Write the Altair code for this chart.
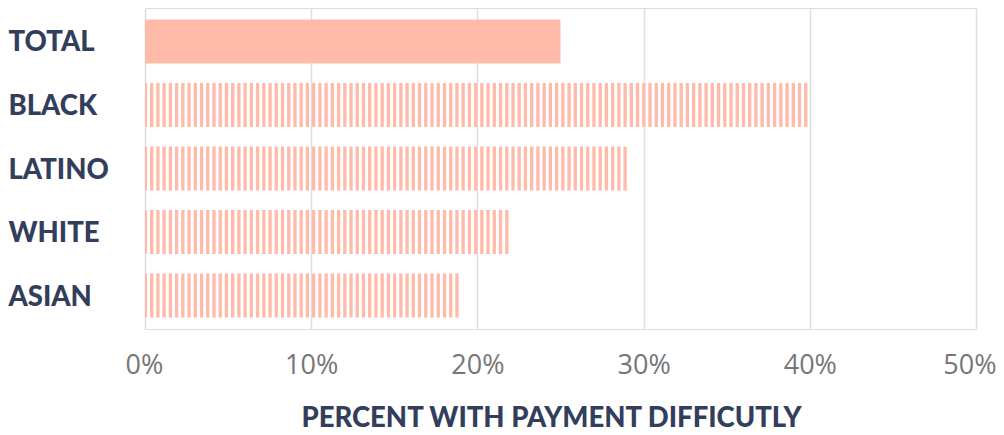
import altair as alt
import pandas as pd

categories = ["TOTAL", "BLACK", "LATINO", "WHITE", "ASIAN"]
values = [25, 40, 29, 22, 19]
striped = [False, True, True, True, True]
x_ticks = [0, 10, 20, 30, 40, 50]

df = pd.DataFrame({"group": categories, "value": values, "striped": striped})

BAR = "#FEBBA9"
NAVY = "#323E5B"

y_enc = alt.Y(
    "group:N",
    sort=categories,
    title=None,
    scale=alt.Scale(paddingInner=0.307, paddingOuter=0.181),
    axis=alt.Axis(
        labelAlign="left",
        labelPadding=137,
        labelOffset=2,
        tickSize=0,
        ticks=False,
        domain=False,
        labelFont="Lato",
        labelFontWeight=900,
        labelFontSize=27.5,
        labelColor=NAVY,
    ),
)

x_scale = alt.Scale(domain=[0, 50], nice=False)
x_axis = alt.Axis(
    values=x_ticks,
    labelExpr="datum.value + '%'",
    grid=True,
    gridColor="#dedede",
    gridWidth=1.5,
    ticks=False,
    tickSize=0,
    domain=False,
    labelFont="Open Sans",
    labelFontSize=27,
    labelColor="#767676",
    labelPadding=23,
    labelFlush=True,
    labelFlushOffset=20,
    title="PERCENT WITH PAYMENT DIFFICUTLY",
    titleFont="Lato",
    titleFontWeight=900,
    titleFontSize=27.5,
    titleColor=NAVY,
    titleAnchor="middle",
    titleX=406,
    titleY=97,
    titleBaseline="alphabetic",
)

solid = (
    alt.Chart(df)
    .transform_filter("!datum.striped")
    .mark_bar(color=BAR)
    .encode(x=alt.X("value:Q", scale=x_scale, axis=x_axis), y=y_enc)
)

stripes = (
    alt.Chart(df)
    .transform_filter("datum.striped")
    .transform_calculate(s="sequence(-0.072, datum.value, 0.3748)")
    .transform_flatten(["s"])
    .transform_calculate(
        xa="max(0, datum.s)", xb="min(datum.value, datum.s + 0.2)"
    )
    .transform_filter("datum.xb > datum.xa")
    .mark_bar(color=BAR)
    .encode(x=alt.X("xa:Q", scale=x_scale, axis=x_axis), x2="xb:Q", y=y_enc)
)

chart = (
    alt.layer(solid, stripes)
    .properties(
        width=831,
        height=321,
        autosize=alt.AutoSizeParams(type="none"),
        padding={"left": 137, "top": 0, "right": 20, "bottom": 98},
    )
    .configure_view(strokeWidth=0)
    .configure(background="white")
)

chart.save("out.html", embed_options={"renderer": "svg", "actions": False})
